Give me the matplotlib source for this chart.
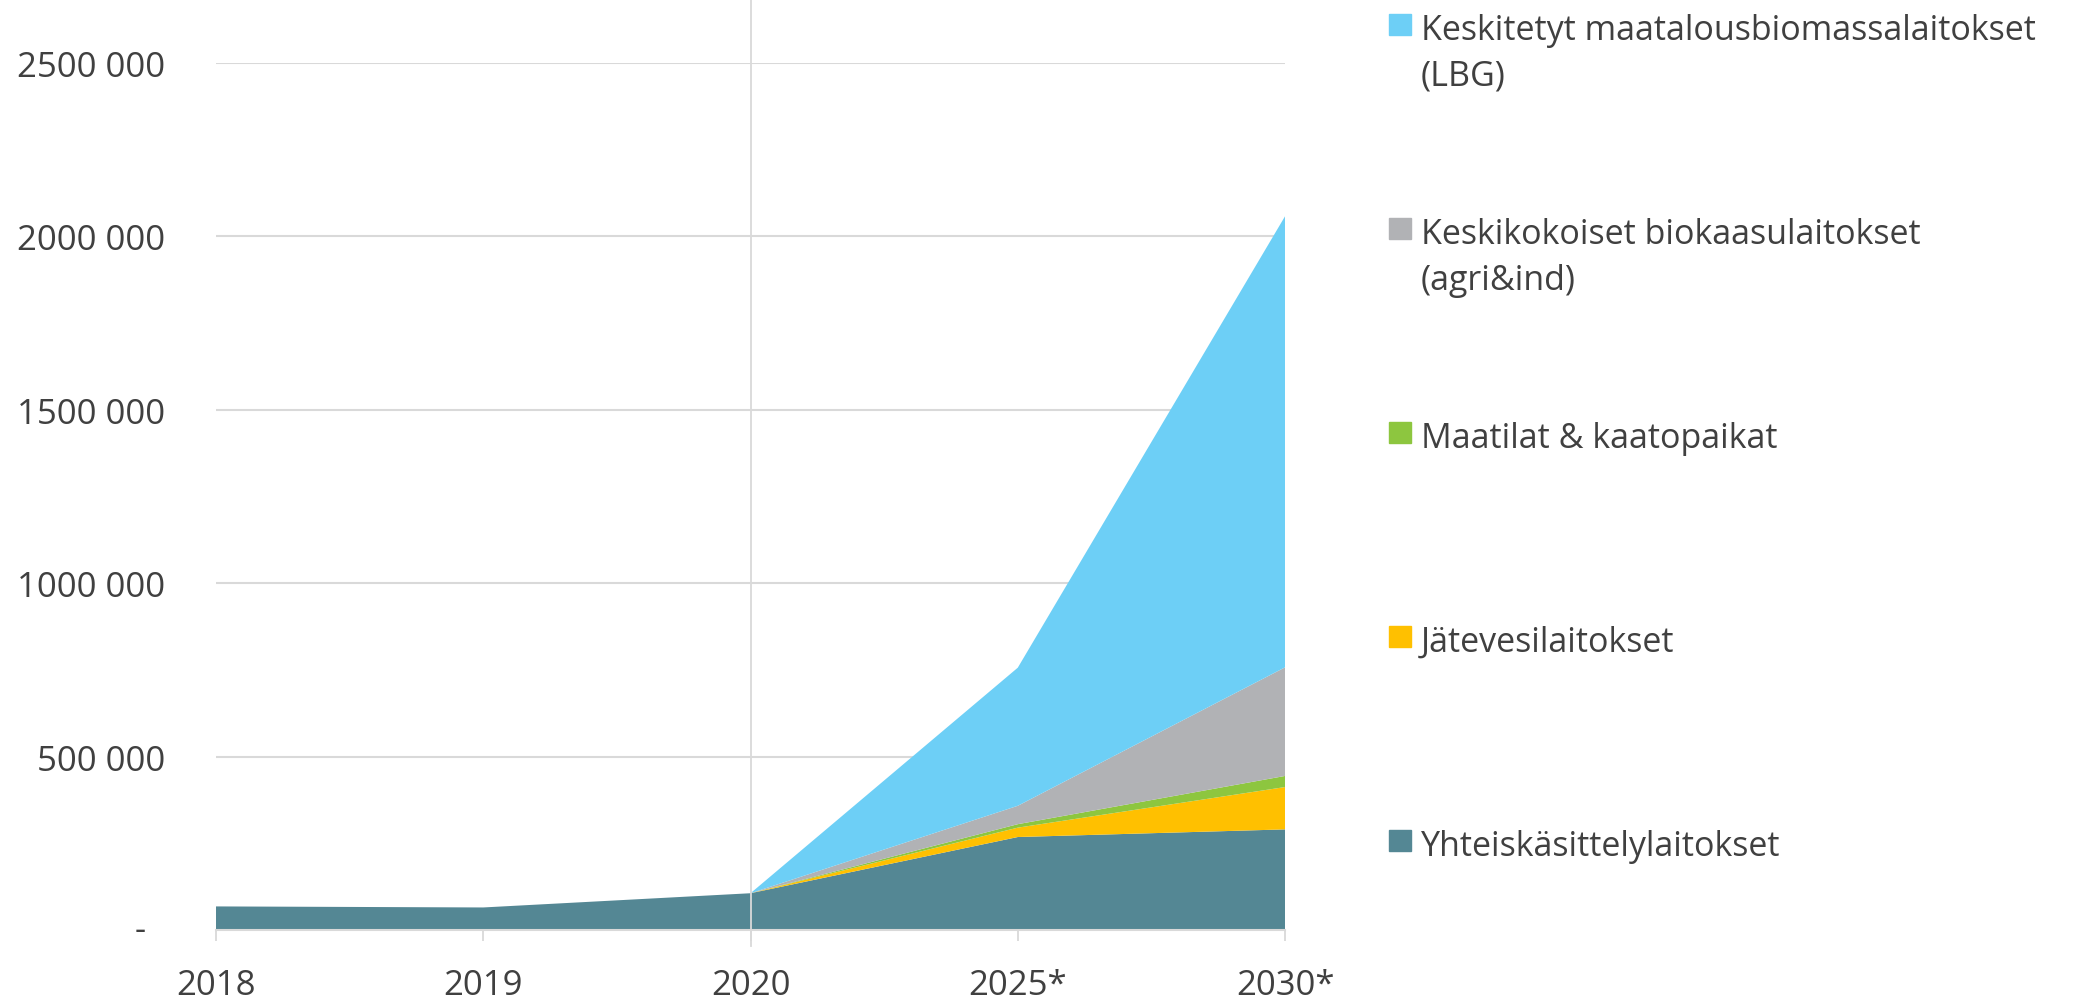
import numpy as np
import matplotlib.pyplot as plt
from matplotlib.patches import Rectangle
from matplotlib.ticker import FuncFormatter

plt.rcParams['font.family'] = ['Open Sans', 'DejaVu Sans']

# data
years = ['2018', '2019', '2020', '2025*', '2030*']
yhteiskasittely = [68000, 65000, 106000, 268000, 290000]
jatevesi = [0, 0, 0, 27000, 122000]
maatilat = [0, 0, 0, 10000, 32000]
keskikokoiset = [0, 0, 0, 53000, 313000]
keskitetyt = [0, 0, 0, 398000, 1300000]

labels = ['Yhteiskäsittelylaitokset',
          'Jätevesilaitokset',
          'Maatilat & kaatopaikat',
          'Keskikokoiset biokaasulaitokset\n(agri&ind)',
          'Keskitetyt maatalousbiomassalaitokset\n(LBG)']
colors = ['#548794', '#FFC000', '#8DC63F', '#B1B2B5', '#6DCFF6']

text_col = '#404040'
grid_col = '#D9D9D9'

fig = plt.figure(figsize=(20.77, 10.04), dpi=100)
ax = fig.add_axes([0.104, 0.0727, 0.5147, 0.864])

x = np.arange(len(years))
ax.stackplot(x, yhteiskasittely, jatevesi, maatilat, keskikokoiset, keskitetyt,
             colors=colors, linewidth=0)

ax.set_xlim(0, len(years) - 1)
ax.set_ylim(0, 2500000)
ax.set_yticks(np.arange(0, 2500001, 500000))
ax.yaxis.set_major_formatter(FuncFormatter(
    lambda v, p: '' if v == 0 else '%d 000' % int(v / 1000)))
# zero is shown as a dash, sitting further left than the other labels
ax.text(-0.0711, 0, '-', transform=ax.get_yaxis_transform(), ha='center',
        va='center', fontsize=25, color=text_col)

ax.set_xticks(x)
ax.set_xticklabels(years)
ax.grid(axis='y', color=grid_col, linewidth=1.5, zorder=0)
ax.set_axisbelow(True)

for s in ['top', 'right', 'left']:
    ax.spines[s].set_visible(False)
ax.spines['bottom'].set_color(grid_col)
ax.spines['bottom'].set_linewidth(1.5)

ax.tick_params(axis='y', length=0, pad=36.5, labelsize=25, labelcolor=text_col)
ax.tick_params(axis='x', length=8, width=1.3, color=grid_col, pad=19.5,
               labelsize=25, labelcolor=text_col)

# separator line at 2020
ax.axvline(2, ymin=-0.018, ymax=1.08, color=grid_col, linewidth=1.3,
           clip_on=False, zorder=5)

# legend on the right, top entry first
tops = [831, 627, 423, 219, 15]
for lab, col, top in zip(labels, colors, tops):
    y0 = 1 - (top + 21) / 1004
    fig.patches.append(Rectangle((0.6688, y0), 0.0106, 0.0209,
                                 transform=fig.transFigure, color=col))
    fig.text(0.6842, 1 - (top - 1) / 1004, lab, ha='left', va='top',
             fontsize=24.5, color=text_col, linespacing=1.45)

plt.savefig('out.png', dpi=100)
